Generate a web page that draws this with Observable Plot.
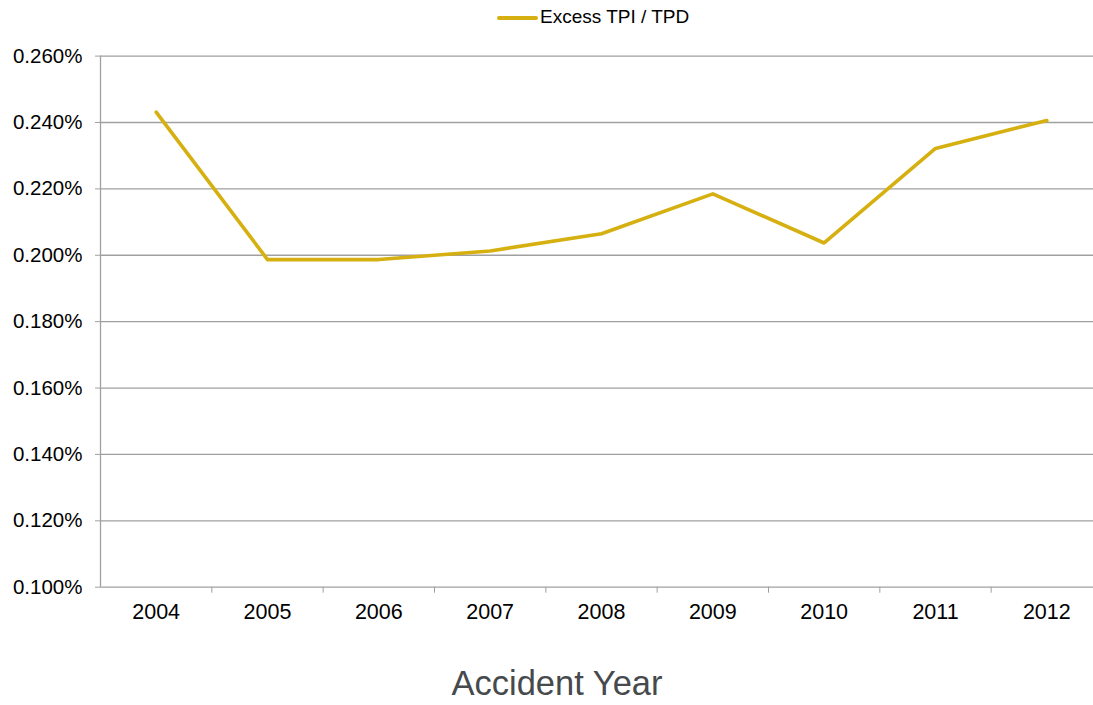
<!DOCTYPE html>
<html>
<head>
<meta charset="utf-8">
<script src="https://cdn.jsdelivr.net/npm/d3@7"></script>
<script src="https://cdn.jsdelivr.net/npm/@observablehq/plot@0.6"></script>
<style>
  html, body { margin: 0; padding: 0; background: #fff; overflow: hidden; }
  body { width: 1093px; height: 705px; font-family: "Liberation Sans", Arial, sans-serif; }
  #legend { height: 38px; position: relative; }
  #legend .sw { position: absolute; left: 497px; top: 16px; width: 41px; height: 4px; background: #d6b011; border-radius: 2px; }
  #legend .lb { position: absolute; left: 540px; top: 6px; font-size: 19px; line-height: 22px; color: #000; }
  svg { display: block; overflow: hidden; }
</style>
</head>
<body>
<div id="legend"><div class="sw"></div><div class="lb">Excess TPI / TPD</div></div>
<div id="chart"></div>
<script>
const years = [2004, 2005, 2006, 2007, 2008, 2009, 2010, 2011, 2012];
const excessTPI = [0.002431, 0.001987, 0.001987, 0.002013, 0.002065, 0.002185, 0.002037, 0.002322, 0.002406];
const yTicks = [0.0010, 0.0012, 0.0014, 0.0016, 0.0018, 0.0020, 0.0022, 0.0024, 0.0026];
const bandEdges = [2004.5, 2005.5, 2006.5, 2007.5, 2008.5, 2009.5, 2010.5, 2011.5];
const seriesName = "Excess TPI / TPD";
const xTitle = "Accident Year";

const data = years.map((y, i) => ({year: y, value: excessTPI[i]}));

const chart = Plot.plot({
  width: 1093,
  height: 667,
  marginTop: 17.6,
  marginBottom: 118.3,
  marginLeft: 100,
  marginRight: 0,
  style: {fontFamily: "'Liberation Sans', Arial, sans-serif", color: "#000", background: "#fff"},
  x: {type: "linear", domain: [2003.5, 2012.5], range: [100, 1102]},
  y: {domain: [0.0010, 0.0026]},
  marks: [
    Plot.gridY(yTicks, {stroke: "#a0a0a0", strokeOpacity: 1, strokeWidth: 1.3}),
    Plot.ruleX([2003.5], {stroke: "#a0a0a0", strokeWidth: 1.3}),
    Plot.axisY({ticks: yTicks, tickFormat: d3.format(".3%"), tickSize: 5, tickPadding: 13, stroke: "#a0a0a0", fontSize: 20.5, label: null}),
    Plot.axisX({ticks: bandEdges, tickFormat: () => "", tickSize: 6, stroke: "#a0a0a0", label: null}),
    Plot.axisX({ticks: years, tickFormat: d => String(d), tickSize: 0, tickPadding: 17, fontSize: 21.5, label: null}),
    Plot.text([xTitle], {frameAnchor: "bottom", dx: -40, dy: 108, lineAnchor: "bottom", fontSize: 34.5, fill: "#464a4d"}),
    Plot.line(data, {x: "year", y: "value", stroke: "#d6b011", strokeWidth: 3.6, strokeLinejoin: "round", strokeLinecap: "round"})
  ]
});
document.getElementById("chart").append(chart);
</script>
</body>
</html>
